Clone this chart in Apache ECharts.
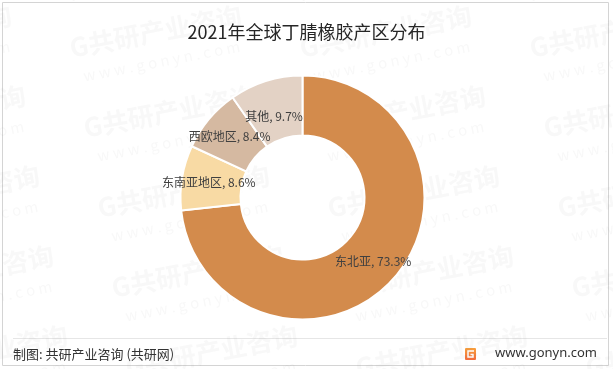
<!DOCTYPE html>
<html>
<head>
<meta charset="utf-8">
<script src="https://cdn.jsdelivr.net/npm/echarts@6/dist/echarts.min.js"></script>
<style>
html,body{margin:0;padding:0;background:#fff;}
#chart{width:613px;height:369px;}
</style>
</head>
<body>
<div id="chart"></div>
<script>
// ---- data ----
const titleText = '2021年全球丁腈橡胶产区分布';
const categories = ['东北亚', '东南亚地区', '西欧地区', '其他'];
const shares = [73.3, 8.6, 8.4, 9.7];
const sliceColors = ['#D38B4C', '#F8DAA4', '#D5B9A1', '#E3D2C5'];
const sourceText = '制图: 共研产业咨询 (共研网)';
const siteText = 'www.gonyn.com';

const FONT = '"Noto Sans CJK SC", "Noto Sans", sans-serif';

const chart = echarts.init(document.getElementById('chart'), null, {renderer: 'canvas'});

// watermark tiles
const wm = [];
for (let r = -1; r < 6; r++) {
  for (let c = -1; c < 3; c++) {
    const x = 70 + c * 230 + r * 14;
    const y = 48 + r * 80;
    wm.push({
      type: 'group', x: x, y: y, rotation: 0.19, silent: true, z: 100,
      children: [
        {type: 'text', style: {x: 0, y: 0, text: 'G共研产业咨询', fill: 'rgba(110,110,110,0.05)',
          font: 'bold 26px ' + FONT, verticalAlign: 'middle'}},
        {type: 'text', style: {x: 8, y: 30, text: 'w w w . g o n y n . c o m', fill: 'rgba(110,110,110,0.05)',
          font: '15px ' + FONT, verticalAlign: 'middle'}}
      ]
    });
  }
}

const option = {
  animation: false,
  backgroundColor: '#fff',
  title: {
    text: titleText,
    left: 'center',
    top: 18,
    textStyle: {fontFamily: FONT, fontSize: 18, fontWeight: 'normal', color: '#262626'}
  },
  series: [{
    type: 'pie',
    center: [302.5, 197.5],
    radius: [62, 122],
    startAngle: 90,
    clockwise: true,
    avoidLabelOverlap: false,
    itemStyle: {borderColor: '#fff', borderWidth: 2},
    label: {
      show: true,
      position: 'inside',
      formatter: p => p.name + ', ' + p.value.toFixed(1) + '%',
      color: '#404040',
      fontSize: 12,
      fontFamily: FONT
    },
    labelLine: {show: false},
    emphasis: {disabled: true},
    data: categories.map((name, i) => ({
      name: name,
      value: shares[i],
      itemStyle: {color: sliceColors[i]},
      label: name === '其他' ? {offset: [0, 10]} : undefined
    }))
  }],
  graphic: [
    {type: 'rect', silent: true, z: 0, shape: {x: 2.5, y: 2.5, width: 606, height: 363},
      style: {fill: 'none', stroke: '#D4D4D4', lineWidth: 1}},
    {type: 'line', silent: true, shape: {x1: 13, y1: 338.5, x2: 607, y2: 338.5},
      style: {stroke: '#E6E6E6', lineWidth: 1}},
    {type: 'text', silent: true, style: {x: 13, y: 354, text: sourceText, fill: '#333',
      font: '13px ' + FONT, verticalAlign: 'middle'}},
    {type: 'rect', silent: true, shape: {x: 465, y: 348, width: 11, height: 12, r: 1},
      style: {fill: new echarts.graphic.LinearGradient(0, 0, 0, 1, [
        {offset: 0, color: '#F9A13C'}, {offset: 1, color: '#F26A3C'}])}},
    {type: 'polyline', silent: true, shape: {points: [[474, 351], [468, 351], [468, 357], [473, 357], [473, 354.5], [470.5, 354.5]]},
      style: {stroke: '#fff', lineWidth: 1.5, fill: 'none'}},
    {type: 'text', silent: true, style: {x: 597, y: 353, text: siteText, fill: '#333',
      font: '13px "Noto Sans", sans-serif', align: 'right', verticalAlign: 'middle'}}
  ].concat(wm)
};

chart.setOption(option);
</script>
</body>
</html>
